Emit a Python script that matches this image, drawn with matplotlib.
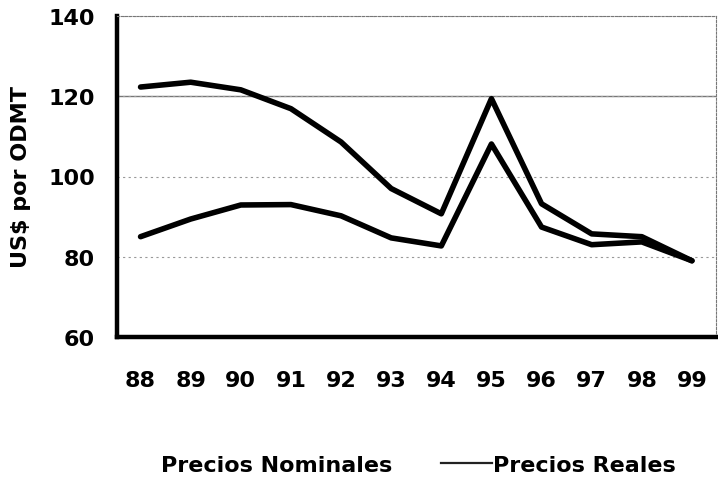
import matplotlib
matplotlib.use("Agg")
import matplotlib.pyplot as plt
from matplotlib.lines import Line2D

years = ["88", "89", "90", "91", "92", "93", "94", "95", "96", "97", "98", "99"]
reales = [122.3, 123.5, 121.6, 116.9, 108.6, 97.0, 90.7, 119.4, 93.2, 85.7, 85.0, 79.0]
nominales = [85.0, 89.4, 92.9, 93.0, 90.2, 84.7, 82.7, 108.1, 87.4, 83.0, 83.7, 79.0]
yticks = [60, 80, 100, 120, 140]

plt.rcParams['font.family'] = ['DejaVu Sans']

fig = plt.figure(figsize=(7.18, 4.85), dpi=100)
ax = fig.add_axes([117/718, 1 - 338/485, (716-117)/718, (338-17)/485])

x = list(range(len(years)))
ax.plot(x, reales, color='black', lw=4.0, solid_joinstyle='round', solid_capstyle='round', zorder=3)
ax.plot(x, nominales, color='black', lw=4.0, solid_joinstyle='round', solid_capstyle='round', zorder=3)

ax.set_xlim(-0.47, len(years) - 1 + 0.48)
ax.set_ylim(60, 140)
ax.set_yticks(yticks)
ax.set_yticklabels([str(v) for v in yticks], fontsize=16, fontweight='bold')
ax.set_xticks(x)
ax.set_xticklabels(years, fontsize=16, fontweight='bold')
ax.tick_params(axis='both', length=0)
ax.tick_params(axis='x', pad=24)
ax.tick_params(axis='y', pad=16)

ax.grid(axis='y', color='#999999', lw=0.8, linestyle=(0, (2, 3)))
ax.grid(axis='x', visible=False)
ax.axhline(120, color='#777777', lw=1.0, zorder=0.5)

ax.spines['left'].set_linewidth(3.2)
ax.spines['bottom'].set_linewidth(3.2)
for s in ['top', 'right']:
    ax.spines[s].set_linewidth(0.8)
    ax.spines[s].set_color('#777777')
    ax.spines[s].set_linestyle((0, (2, 1.5)))

ax.set_ylabel("US$ por ODMT", fontsize=16, fontweight='bold', labelpad=12)

handles = [Line2D([], [], color='white', lw=2), Line2D([], [], color='#222222', lw=1.6)]
fig.legend(handles, ["Precios Nominales", "Precios Reales"], loc='center',
           bbox_to_anchor=(392/718, 1 - 466/485), ncol=2, frameon=False,
           prop={'size': 16, 'weight': 'bold'}, handlelength=2.3, handletextpad=0.05,
           columnspacing=2.2, borderpad=0, borderaxespad=0)

fig.savefig("out.png", dpi=100)
